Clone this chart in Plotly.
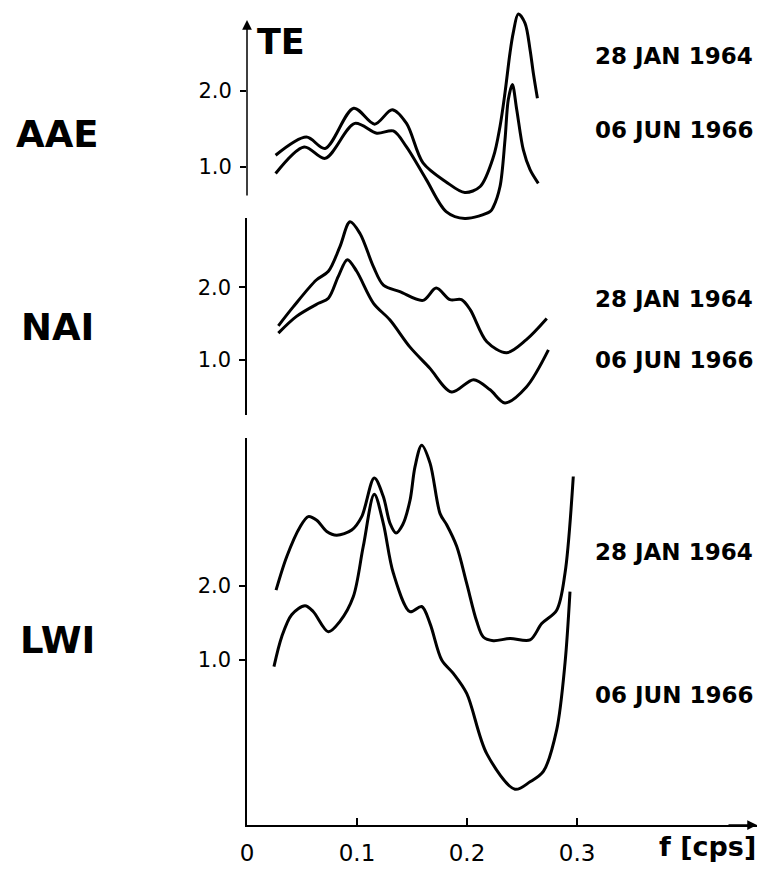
import plotly.graph_objects as go

# ---- transfer-function estimates TE(f), f in cps ----
# AAE
AAE_F_1964 = [0.026, 0.054, 0.071, 0.097, 0.116, 0.132, 0.145, 0.160, 0.181, 0.198,
              0.212, 0.224, 0.230, 0.2345, 0.239, 0.242, 0.2466, 0.2527, 0.2573, 0.2603, 0.264]
AAE_TE_1964 = [1.15, 1.39, 1.24, 1.77, 1.56, 1.75, 1.57, 1.05, 0.80, 0.66,
               0.74, 1.13, 1.53, 1.97, 2.49, 2.76, 3.01, 2.89, 2.54, 2.23, 1.90]
AAE_F_1966 = [0.026, 0.052, 0.071, 0.098, 0.118, 0.133, 0.145, 0.163, 0.181, 0.198,
              0.221, 0.2239, 0.230, 0.2345, 0.2375, 0.2412, 0.2452, 0.2512, 0.2573, 0.2648]
AAE_TE_1966 = [0.91, 1.26, 1.11, 1.57, 1.44, 1.47, 1.26, 0.83, 0.41, 0.32,
               0.41, 0.47, 0.74, 1.35, 1.88, 2.08, 1.75, 1.22, 0.96, 0.78]

# NAI
NAI_F_1964 = [0.0285, 0.042, 0.063, 0.074, 0.0845, 0.0936, 0.1027, 0.115, 0.124, 0.139,
              0.160, 0.172, 0.1845, 0.195, 0.203, 0.218, 0.236, 0.254, 0.2725]
NAI_TE_1964 = [1.47, 1.73, 2.10, 2.22, 2.56, 2.90, 2.74, 2.28, 2.03, 1.94,
               1.82, 1.99, 1.83, 1.83, 1.69, 1.25, 1.10, 1.28, 1.57]
NAI_F_1966 = [0.0285, 0.045, 0.065, 0.074, 0.083, 0.0912, 0.0997, 0.115, 0.130, 0.148,
              0.166, 0.186, 0.206, 0.221, 0.2345, 0.254, 0.274]
NAI_TE_1966 = [1.37, 1.60, 1.78, 1.85, 2.15, 2.38, 2.22, 1.78, 1.55, 1.18,
               0.89, 0.56, 0.73, 0.59, 0.41, 0.63, 1.14]

# LWI
LWI_F_1964 = [0.0264, 0.0361, 0.0482, 0.0557, 0.0634, 0.0725, 0.0815, 0.0952, 0.1043, 0.1157,
              0.1239, 0.1300, 0.1355, 0.1415, 0.1482, 0.1527, 0.1588, 0.1664, 0.1755, 0.1815,
              0.1906, 0.1997, 0.2088, 0.2148, 0.2239, 0.2391, 0.2573, 0.2679, 0.2815, 0.2891, 0.2966]
LWI_TE_1964 = [1.94, 2.39, 2.79, 2.93, 2.88, 2.73, 2.68, 2.75, 2.93, 3.45,
               3.20, 2.84, 2.71, 2.82, 3.15, 3.60, 3.89, 3.65, 2.97, 2.82,
               2.53, 2.03, 1.52, 1.31, 1.26, 1.29, 1.27, 1.49, 1.67, 2.17, 3.47]
LWI_F_1966 = [0.0245, 0.0315, 0.0406, 0.0527, 0.0603, 0.0739, 0.0845, 0.0966, 0.1057, 0.1157,
              0.1239, 0.1330, 0.1482, 0.1588, 0.1664, 0.1770, 0.1875, 0.1997, 0.2179, 0.2436,
              0.2573, 0.2694, 0.2815, 0.2891, 0.2936]
LWI_TE_1966 = [0.91, 1.31, 1.61, 1.73, 1.65, 1.38, 1.52, 1.85, 2.53, 3.23,
               2.84, 2.17, 1.65, 1.72, 1.49, 1.00, 0.82, 0.55, -0.26, -0.74,
               -0.64, -0.50, 0.06, 0.96, 1.92]

STATIONS = ["AAE", "NAI", "LWI"]
DATE_A = "28 JAN 1964"
DATE_B = "06 JUN 1966"
Y_TICKS = [1.0, 2.0]
Y_TICK_TEXT = ["1.0", "2.0"]
X_TICKS = [0, 0.1, 0.2, 0.3]
X_TICK_TEXT = ["0", "0.1", "0.2", "0.3"]

W, H = 760, 870
FONT = "DejaVu Sans"
INK = "black"


def py(p):
    """pixel row -> paper y"""
    return 1 - p / H


def px(p):
    """pixel column -> paper x"""
    return p / W


fig = go.Figure()

curves = [
    ("y", AAE_F_1964, AAE_TE_1964), ("y", AAE_F_1966, AAE_TE_1966),
    ("y2", NAI_F_1964, NAI_TE_1964), ("y2", NAI_F_1966, NAI_TE_1966),
    ("y3", LWI_F_1964, LWI_TE_1964), ("y3", LWI_F_1966, LWI_TE_1966),
]
for yax, f, te in curves:
    fig.add_trace(go.Scatter(
        x=f, y=te, xaxis="x", yaxis=yax, mode="lines",
        line=dict(color=INK, width=3, shape="spline", smoothing=0.9),
        showlegend=False, hoverinfo="skip"))

ytick_style = dict(
    tickmode="array", tickvals=Y_TICKS, ticktext=Y_TICK_TEXT,
    ticks="outside", ticklen=6, tickwidth=1.5, tickcolor=INK,
    tickfont=dict(family=FONT, size=21, color=INK), ticklabelstandoff=4,
    showgrid=False, zeroline=False, anchor="x", fixedrange=True,
)

fig.update_layout(
    width=W, height=H,
    margin=dict(l=0, r=0, t=0, b=0, autoexpand=False),
    paper_bgcolor="white", plot_bgcolor="rgba(0,0,0,0)",
    xaxis=dict(
        domain=[px(247), px(757)], range=[0, 0.4636], anchor="y3",
        showline=True, linewidth=1.5, linecolor=INK,
        tickmode="array", tickvals=X_TICKS, ticktext=X_TICK_TEXT,
        ticks="inside", ticklen=7, tickwidth=1.5, tickcolor=INK,
        tickfont=dict(family=FONT, size=23, color=INK), ticklabelstandoff=7,
        showgrid=False, zeroline=False, fixedrange=True,
    ),
    # AAE: domain is taller than its drawn axis so the curves are not clipped
    yaxis=dict(domain=[py(226), py(8)], range=[0.2197, 3.088], showline=False, **ytick_style),
    yaxis2=dict(domain=[py(415), py(218)], range=[0.2435, 2.953],
                showline=True, linewidth=1.5, linecolor=INK, **ytick_style),
    yaxis3=dict(domain=[py(825), py(438)], range=[-1.221, 3.988],
                showline=True, linewidth=1.5, linecolor=INK, **ytick_style),
)

ann = []
# AAE vertical axis with arrow
ann.append(dict(x=0, y=2.93, xref="x", yref="y", ax=0, ay=0.60, axref="x", ayref="y",
                text="", showarrow=True, arrowhead=2, arrowsize=1.3, arrowwidth=1.5,
                arrowcolor=INK, standoff=0))
# f axis arrow
ann.append(dict(x=0.4636, y=-1.221, xref="x", yref="y3", ax=-30, ay=0,
                text="", showarrow=True, arrowhead=2, arrowsize=1.3, arrowwidth=1.5,
                arrowcolor=INK, standoff=0))
ann.append(dict(x=px(255), y=py(42), xref="paper", yref="paper", xanchor="left", yanchor="middle",
                text="<b>TE</b>", showarrow=False, font=dict(family=FONT, size=35, color=INK)))
ann.append(dict(x=px(657), y=py(846), xref="paper", yref="paper", xanchor="left", yanchor="middle",
                text="<b>f [cps]</b>", showarrow=False, font=dict(family=FONT, size=27, color=INK)))

station_rows = [135, 327, 640]
for name, row in zip(STATIONS, station_rows):
    ann.append(dict(x=px(57), y=py(row), xref="paper", yref="paper", xanchor="center", yanchor="middle",
                    text=f"<b>{name}</b>", showarrow=False, font=dict(family=FONT, size=37, color=INK)))

date_rows = [(56, 130), (299, 360), (552, 695)]
for ra, rb in date_rows:
    for label, row in ((DATE_A, ra), (DATE_B, rb)):
        ann.append(dict(x=px(593), y=py(row), xref="paper", yref="paper", xanchor="left",
                        yanchor="middle", text=f"<b>{label}</b>", showarrow=False,
                        font=dict(family=FONT, size=23, color=INK)))

fig.update_layout(annotations=ann)
fig.write_html("out.html")
